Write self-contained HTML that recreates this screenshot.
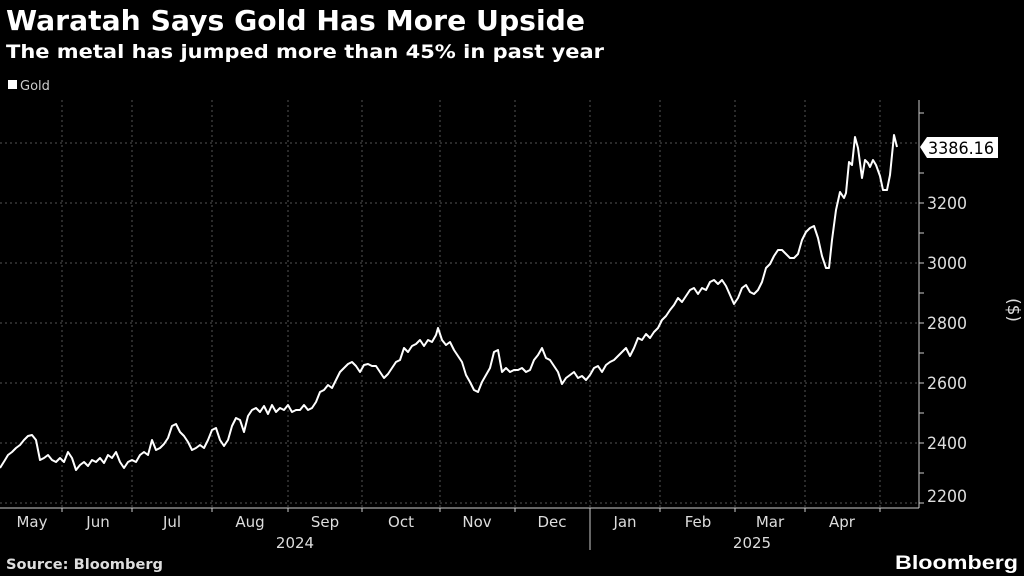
<!DOCTYPE html>
<html><head><meta charset="utf-8"><style>
body{margin:0;background:#000;width:1024px;height:576px;overflow:hidden;font-family:"Liberation Sans","DejaVu Sans",sans-serif;color:#fff}
</style></head><body>
<svg width="1024" height="576" xmlns="http://www.w3.org/2000/svg" style="position:absolute;left:0;top:0">
<text x="6" y="30" font-size="28" font-weight="bold" fill="#fff" font-family="DejaVu Sans, sans-serif" textLength="579" lengthAdjust="spacingAndGlyphs">Waratah Says Gold Has More Upside</text>
<text x="6" y="58" font-size="19" font-weight="bold" fill="#fff" font-family="DejaVu Sans, sans-serif" textLength="598" lengthAdjust="spacingAndGlyphs">The metal has jumped more than 45% in past year</text>
<rect x="8" y="80" width="9" height="9" fill="#fff"/>
<text x="20" y="90" font-size="13" fill="#ccc" font-family="DejaVu Sans, sans-serif">Gold</text>
<g stroke="#555" stroke-dasharray="2,3" stroke-width="1">
<line x1="0" y1="143" x2="919" y2="143"/><line x1="0" y1="203" x2="919" y2="203"/><line x1="0" y1="263" x2="919" y2="263"/><line x1="0" y1="323" x2="919" y2="323"/><line x1="0" y1="383" x2="919" y2="383"/><line x1="0" y1="443" x2="919" y2="443"/><line x1="0" y1="503" x2="919" y2="503"/>
<line x1="62" y1="100" x2="62" y2="507"/><line x1="132" y1="100" x2="132" y2="507"/><line x1="212" y1="100" x2="212" y2="507"/><line x1="288" y1="100" x2="288" y2="507"/><line x1="362" y1="100" x2="362" y2="507"/><line x1="440" y1="100" x2="440" y2="507"/><line x1="515" y1="100" x2="515" y2="507"/><line x1="590" y1="100" x2="590" y2="507"/><line x1="660" y1="100" x2="660" y2="507"/><line x1="735" y1="100" x2="735" y2="507"/><line x1="805" y1="100" x2="805" y2="507"/><line x1="880" y1="100" x2="880" y2="507"/>
</g>
<line x1="0" y1="508" x2="919" y2="508" stroke="#ccc"/>
<line x1="919" y1="100" x2="919" y2="508" stroke="#ccc"/>
<g stroke="#ccc"><line x1="919" y1="113" x2="924" y2="113"/><line x1="919" y1="173" x2="924" y2="173"/><line x1="919" y1="203" x2="924" y2="203"/><line x1="919" y1="233" x2="924" y2="233"/><line x1="919" y1="263" x2="924" y2="263"/><line x1="919" y1="293" x2="924" y2="293"/><line x1="919" y1="323" x2="924" y2="323"/><line x1="919" y1="353" x2="924" y2="353"/><line x1="919" y1="383" x2="924" y2="383"/><line x1="919" y1="413" x2="924" y2="413"/><line x1="919" y1="443" x2="924" y2="443"/><line x1="919" y1="473" x2="924" y2="473"/><line x1="919" y1="503" x2="924" y2="503"/>
<line x1="62" y1="508" x2="62" y2="512"/><line x1="132" y1="508" x2="132" y2="512"/><line x1="212" y1="508" x2="212" y2="512"/><line x1="288" y1="508" x2="288" y2="512"/><line x1="362" y1="508" x2="362" y2="512"/><line x1="440" y1="508" x2="440" y2="512"/><line x1="515" y1="508" x2="515" y2="512"/><line x1="590" y1="508" x2="590" y2="550"/><line x1="660" y1="508" x2="660" y2="512"/><line x1="735" y1="508" x2="735" y2="512"/><line x1="805" y1="508" x2="805" y2="512"/><line x1="880" y1="508" x2="880" y2="512"/></g>
<g font-size="17" fill="#ddd" font-family="DejaVu Sans, sans-serif">
<text x="927" y="209" textLength="40" lengthAdjust="spacingAndGlyphs">3200</text><text x="927" y="269" textLength="40" lengthAdjust="spacingAndGlyphs">3000</text><text x="927" y="329" textLength="40" lengthAdjust="spacingAndGlyphs">2800</text><text x="927" y="389" textLength="40" lengthAdjust="spacingAndGlyphs">2600</text><text x="927" y="449" textLength="40" lengthAdjust="spacingAndGlyphs">2400</text><text x="927" y="502" textLength="40" lengthAdjust="spacingAndGlyphs">2200</text>
</g>
<text x="1008" y="310" font-size="17" fill="#ddd" transform="rotate(90 1008 310)" text-anchor="middle" font-family="DejaVu Sans, sans-serif">($)</text>
<g font-size="15" fill="#ddd" text-anchor="middle" font-family="DejaVu Sans, sans-serif">
<text x="32" y="527">May</text><text x="98" y="527">Jun</text><text x="172" y="527">Jul</text><text x="250" y="527">Aug</text><text x="325" y="527">Sep</text><text x="401" y="527">Oct</text><text x="477" y="527">Nov</text><text x="552" y="527">Dec</text><text x="625" y="527">Jan</text><text x="698" y="527">Feb</text><text x="770" y="527">Mar</text><text x="842" y="527">Apr</text>
<text x="295" y="548">2024</text><text x="752" y="548">2025</text>
</g>
<polyline fill="none" stroke="#fff" stroke-width="2" stroke-linejoin="round" points="0,468 5,460 8,455 12,452 16,448 20,445 24,440 28,436 32,435 36,440 40,460 44,458 48,455 52,460 56,462 60,458 64,462 68,452 72,458 76,470 80,465 84,462 88,466 92,460 96,462 100,458 104,463 108,455 112,458 116,452 120,462 124,468 128,462 132,460 136,462 140,455 144,452 148,455 152,440 156,450 160,448 164,444 168,438 172,426 176,424 180,432 184,436 188,442 192,450 196,448 200,445 204,448 208,440 212,430 216,428 220,440 224,446 228,440 232,426 236,418 240,420 244,432 248,416 252,410 256,408 260,412 264,406 268,414 272,405 276,412 280,408 284,410 288,405 292,412 296,410 300,410 304,405 308,410 312,408 316,402 320,392 324,390 328,385 332,388 336,380 340,372 344,368 348,364 352,362 356,366 360,372 364,365 368,364 372,366 376,366 380,372 384,378 388,374 392,368 396,362 400,360 404,348 408,352 412,346 416,344 420,340 424,346 428,340 432,342 436,335 438,328 442,340 446,345 450,342 454,350 458,356 462,362 466,375 470,382 474,390 478,392 482,382 486,375 490,368 494,352 498,350 502,372 506,368 510,372 514,370 518,370 522,368 526,372 530,370 534,360 538,355 542,348 546,358 550,360 554,366 558,372 562,384 566,378 570,375 574,372 578,378 582,376 586,380 590,375 594,368 598,366 602,372 606,365 610,362 614,360 618,356 622,352 626,348 630,356 634,348 638,338 642,340 646,334 650,338 654,332 658,328 662,320 666,316 670,310 674,305 678,298 682,302 686,296 690,290 694,288 698,294 702,288 706,290 710,282 714,280 718,284 722,280 726,286 730,295 734,304 738,298 742,288 746,285 750,292 754,294 758,290 762,282 766,268 770,264 774,256 778,250 782,250 786,254 790,258 794,258 798,254 802,240 806,232 810,228 814,226 818,238 822,256 826,268 829,268 832,240 836,210 840,192 844,198 846,193 849,162 852,165 855,137 858,148 862,178 865,160 868,163 870,167 873,160 876,165 880,176 883,190 887,190 890,175 894,135 897,147"/>
<path d="M920,147 L927,137 L998,137 L998,158 L927,158 Z" fill="#fff"/>
<text x="928" y="154" font-size="17" fill="#000" font-family="DejaVu Sans, sans-serif" textLength="66" lengthAdjust="spacingAndGlyphs">3386.16</text>
<text x="6" y="569" font-size="14" font-weight="bold" fill="#ddd" font-family="DejaVu Sans, sans-serif" textLength="157" lengthAdjust="spacingAndGlyphs">Source: Bloomberg</text>
<text x="1018" y="569" font-size="19" font-weight="bold" fill="#fff" text-anchor="end" font-family="Liberation Sans, sans-serif" textLength="123" lengthAdjust="spacingAndGlyphs">Bloomberg</text>
</svg>
</body></html>
